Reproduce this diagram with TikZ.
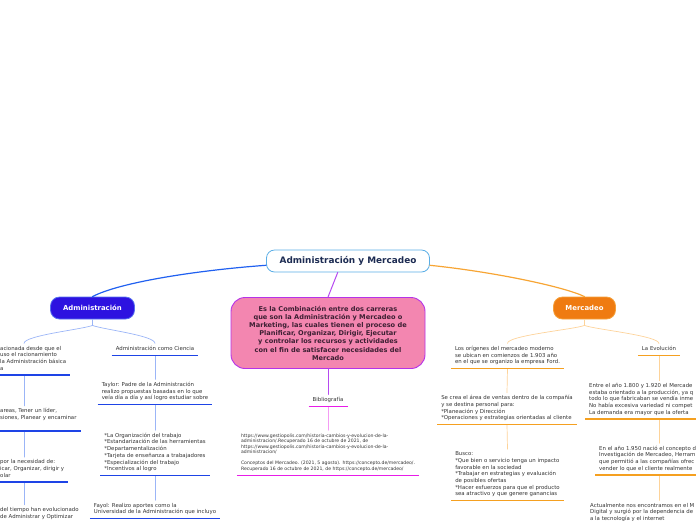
\documentclass[tikz,border=0pt]{standalone}
\usepackage{fontspec}
\setmainfont{DejaVu Sans}
\definecolor{txtgray}{HTML}{333333}
\definecolor{navy}{HTML}{1C2B52}
\definecolor{titleline}{HTML}{5AAEE6}
\definecolor{admfill}{HTML}{2D12E0}
\definecolor{admborder}{HTML}{5570F0}
\definecolor{admconn}{HTML}{2060F0}
\definecolor{admul}{HTML}{1E44E6}
\definecolor{admlight}{HTML}{9BB5F7}
\definecolor{merfill}{HTML}{EF7B11}
\definecolor{merborder}{HTML}{F5A03A}
\definecolor{merconn}{HTML}{F7A534}
\definecolor{merul}{HTML}{F5A020}
\definecolor{merlight}{HTML}{FDD39A}
\definecolor{deffill}{HTML}{F386B0}
\definecolor{defborder}{HTML}{B533E8}
\definecolor{defconn}{HTML}{B64AF0}
\definecolor{deftext}{HTML}{3D1F33}
\definecolor{bibul}{HTML}{E81CE8}
\definecolor{biblight}{HTML}{F49CF4}
\begin{document}
\begin{tikzpicture}[x=1pt, y=-1pt, line join=round, line cap=round,
	txt/.style={font=\fontsize{5.4}{6.7}\selectfont, text=txtgray, align=left,
		inner xsep=4pt, inner ysep=2.5pt, execute at begin node=\strut, execute at end node=\strut},
	bibtxt/.style={txt, font=\fontsize{4.6}{5.5}\selectfont, inner ysep=3.5pt},
	branch/.style={rounded corners=9pt, minimum height=22pt, inner sep=0pt, line width=0.8pt,
		text=white, font=\bfseries\fontsize{6.9}{8}\selectfont},
	uline/.style={line width=1.4pt, line cap=butt},
	thin/.style={line width=0.7pt}]
	\useasboundingbox (0,0) rectangle (696,520);
	\clip (0,0) rectangle (696,520);
	\coordinate (lcol) at (24,0);
	\coordinate (rcol) at (659,0);
	% main topics
	\node[draw=titleline, fill=white, line width=0.8pt, rounded corners=8pt, minimum width=163pt,
		minimum height=22pt, text=navy, font=\bfseries\fontsize{8.9}{10}\selectfont] (am) at (348,261) {Administración y Mercadeo};
	\node[branch, fill=admfill, draw=admborder, minimum width=84pt] (adm) at (92.5,308) {Administración};
	\node[branch, fill=merfill, draw=merborder, minimum width=62pt] (mer) at (584.5,308) {Mercadeo};
	\node[fill=deffill, draw=defborder, line width=0.9pt, rounded corners=14pt, minimum width=194pt,
		minimum height=71pt, align=center, text=deftext, font=\bfseries\fontsize{6.6}{8.2}\selectfont] (def) at (328,333)
		{Es la Combinación entre dos carreras\\ que son la Administración y Mercadeo o\\ Marketing, las cuales tienen el proceso de\\
		Planificar, Organizar, Dirigir, Ejecutar\\ y controlar los recursos y actividades\\ con el fin de satisfacer necesidades del\\ Mercado};
	\draw[admconn, line width=1.2pt] (am.183) .. controls (200,270) and (120,282) .. (adm.north);
	\draw[merconn, line width=1.2pt] (am.357) .. controls (495,272) and (565,287) .. (mer.north);
	\draw[defconn, line width=1pt] (am.228) -- (def.north);
	% Administracion
	\node[txt, anchor=south west] (l1) at (-4,375) {acionada desde que el\\ uso el racionamiento\\ la Administración básica\\ a};
	\node[txt, anchor=south west] (l2) at (-4,431) {areas, Tener un líder,\\ siones, Planear y encaminar\\};
	\node[txt, anchor=south west] (l3) at (-4,482) {por la necesidad de:\\ icar, Organizar, dirigir y\\ olar};
	\node[txt, anchor=south west] (l4) at (-4,523) {del tiempo han evolucionado\\ de Administrar y Optimizar};
	\node[txt, align=center, anchor=south] (amc) at (155,355.5) {Administración como Ciencia};
	\node[txt, anchor=south] (taylor) at (155,404.5) {Taylor: Padre de la Administración\\ realizo propuestas basadas en lo que\\ veía día a día y así logro estudiar sobre};
	\node[txt, anchor=south] (tasks) at (155,475.5) {*La Organización del trabajo\\ *Estandarización de las herramientas\\ *Departamentalización\\
		*Tarjeta de enseñanza a trabajadores\\ *Especialización del trabajo\\ *Incentivos al logro};
	\node[txt, anchor=south] (fayol) at (155,518.5) {Fayol: Realizo aportes como la\\ Universidad de la Administración que incluyo};
	\draw[admlight, thin] (adm.south) -- ++(0,6) coordinate (admj);
	\draw[admlight, thin] (admj) .. controls +(-10,4) and +(0,-8) .. (l1.north -| lcol);
	\draw[admlight, thin] (admj) .. controls +(10,4) and +(0,-8) .. (amc.north);
	\draw[admlight, thin] (l1.south -| lcol) -- (l2.north -| lcol);
	\draw[admlight, thin] (l2.south -| lcol) -- (l3.north -| lcol);
	\draw[admlight, thin] (l3.south -| lcol) -- (l4.north -| lcol);
	\draw[admlight, thin] (amc.south) -- (taylor.north);
	\draw[admlight, thin] (taylor.south) -- (tasks.north);
	\draw[admlight, thin] (tasks.south) -- (fayol.north);
	\foreach \n in {l1,l2,l3,l4,amc,taylor,tasks,fayol}
		\draw[admul, uline] (\n.south west) -- (\n.south east);
	% Bibliografia
	\node[txt, align=center, anchor=south] (bib) at (328,406.5) {Bibliografía};
	\node[bibtxt, anchor=south] (refs) at (328,475.7) {https://www.gestiopolis.com/historia-cambios-y-evolucion-de-la-\\
		administracion/.Recuperado 16 de octubre de 2021, de\\ https://www.gestiopolis.com/historia-cambios-y-evolucion-de-la-\\
		administracion/\\[5.5pt] Conceptos del Mercadeo. (2021, 5 agosto). https://concepto.de/mercadeo/.\\
		Recuperado 16 de octubre de 2021, de https://concepto.de/mercadeo/};
	\draw[defconn, line width=1pt] (def.south) -- (bib.north);
	\draw[biblight, thin] (bib.south) -- (refs.north);
	\foreach \n in {bib,refs}
		\draw[bibul, uline] (\n.south west) -- (\n.south east);
	% Mercadeo
	\node[txt, anchor=south] (orig) at (507.5,368.5) {Los orígenes del mercadeo moderno\\ se ubican en comienzos de 1.903 año\\ en el que se organizo la empresa Ford.};
	\node[txt, anchor=south] (sales) at (507,424.5) {Se crea el área de ventas dentro de la compañía\\ y se destina personal para:\\
		*Planeación y Dirección\\ *Operaciones y estrategias orientadas al cliente};
	\node[txt, anchor=south] (goals) at (507.5,500.7) {Busco:\\ *Que bien o servicio tenga un impacto\\ favorable en la sociedad\\
		*Trabajar en estrategias y evaluación\\ de posibles ofertas\\ *Hacer esfuerzos para que el producto\\ sea atractivo y que genere ganancias};
	\node[txt, align=center, anchor=south] (evol) at (659,355.7) {La Evolución};
	\node[txt, anchor=south west] (e1800) at (585,419) {Entre el año 1.800 y 1.920 el Mercade\\ estaba orientado a la producción, ya q\\
		todo lo que fabricaban se vendía inme\\ No había excesiva variedad ni compet\\ La demanda era mayor que la oferta};
	\node[txt, anchor=south west] (e1950) at (595,475) {En el año 1.950 nació el concepto d\\ Investigación de Mercadeo, Herram\\
		que permitió a las compañías ofrec\\ vender lo que el cliente realmente};
	\node[txt, anchor=south west] (today) at (586,525.3) {Actualmente nos encontramos en el M\\ Digital y surgió por la dependencia de\\ a la tecnología y el internet};
	\draw[merlight, thin] (mer.south) -- ++(0,6) coordinate (merj);
	\draw[merlight, thin] (merj) .. controls +(-10,4) and +(0,-8) .. (orig.north);
	\draw[merlight, thin] (merj) .. controls +(10,4) and +(0,-8) .. (evol.north);
	\draw[merlight, thin] (orig.south) -- (sales.north);
	\draw[merlight, thin] (sales.south) -- (goals.north);
	\draw[merlight, thin] (evol.south) -- (e1800.north -| rcol);
	\draw[merlight, thin] (e1800.south -| rcol) -- (e1950.north -| rcol);
	\draw[merlight, thin] (e1950.south -| rcol) -- (today.north -| rcol);
	\foreach \n in {orig,sales,goals,evol,e1800,e1950,today}
		\draw[merul, uline] (\n.south west) -- (\n.south east);
\end{tikzpicture}
\end{document}
